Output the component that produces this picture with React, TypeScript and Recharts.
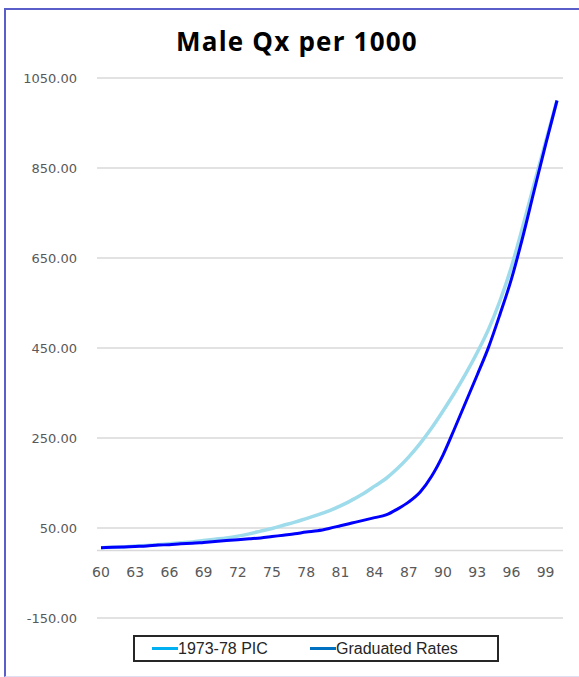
import { CartesianGrid, Legend, Line, LineChart, ReferenceLine, XAxis, YAxis } from 'recharts';

// ages 60..100
const ages = [
  60, 61, 62, 63, 64, 65, 66, 67, 68, 69, 70, 71, 72, 73, 74, 75, 76, 77, 78, 79, 80,
  81, 82, 83, 84, 85, 86, 87, 88, 89, 90, 91, 92, 93, 94, 95, 96, 97, 98, 99, 100,
];

const picRates = [
  6, 7, 8, 10, 11, 13, 15, 17, 19, 22, 25, 28, 32, 37, 43, 49, 56, 63, 71, 79, 88,
  99, 112, 126, 143, 160, 182, 208, 238, 272, 310, 350, 393, 440, 492, 555, 630, 720, 815, 908, 1000,
];

const graduatedRates = [
  6, 7, 8, 9, 10, 12, 13, 15, 16, 18, 20, 22, 24, 26, 28, 31, 34, 37, 41, 44, 49,
  55, 61, 67, 73, 79, 92, 108, 130, 165, 212, 270, 330, 390, 452, 525, 603, 697, 800, 902, 1000,
];

const yTicks = [-150, 50, 250, 450, 650, 850, 1050];

const seriesNames = ['1973-78 PIC', 'Graduated Rates'];
const legendColors = ['#00b0f0', '#0070c0'];

const data = ages.map((age, i) => ({
  age,
  pic: picRates[i],
  graduated: graduatedRates[i],
}));

const CHART_W = 573;
const CHART_H = 666;
const MARGIN = { top: 68, right: 16, left: 0, bottom: 14 };
const PLOT_H = 540;
const Y_MIN = -150;
const Y_MAX = 1050;
// pixel row of the zero value inside the chart svg
const ZERO_Y = MARGIN.top + (PLOT_H * Y_MAX) / (Y_MAX - Y_MIN);

const AgeTick = (props: any) => {
  const { x, payload } = props;
  return (
    <text
      x={x}
      y={ZERO_Y + 21.5}
      dy="0.35em"
      textAnchor="middle"
      fill="#595959"
      fontSize={14}
      fontFamily="DejaVu Sans"
    >
      {payload.value}
    </text>
  );
};

const LegendBox = () => (
  <div
    style={{
      boxSizing: 'border-box',
      width: 366,
      height: 27,
      border: '2px solid #262626',
      position: 'relative',
      fontFamily: 'Liberation Sans, Arial, sans-serif',
      fontSize: 16,
      color: '#262626',
      background: '#fff',
    }}
  >
    {seriesNames.map((name, i) => (
      <div
        key={name}
        style={{
          position: 'absolute',
          left: i === 0 ? 17 : 175,
          top: 0,
          height: 23,
          display: 'flex',
          alignItems: 'center',
          whiteSpace: 'nowrap',
        }}
      >
        <span style={{ display: 'inline-block', width: 26, height: 3, background: legendColors[i] }} />
        <span>{name}</span>
      </div>
    ))}
  </div>
);

export default function App() {
  return (
    <div
      style={{
        position: 'absolute',
        left: 4,
        top: 8,
        width: CHART_W,
        height: CHART_H,
        borderTop: '2px solid #5a5ec8',
        borderLeft: '2px solid #5a5ec8',
        borderBottom: '1px solid #dedff2',
        background: '#fff',
      }}
    >
      <div
        style={{
          position: 'absolute',
          left: 0,
          top: 15,
          width: 582,
          textAlign: 'center',
          fontFamily: 'Open Sans, Lato, sans-serif',
          fontWeight: 700,
          fontSize: 26,
          letterSpacing: 1.2,
          lineHeight: '32px',
          color: '#000',
          zIndex: 1,
        }}
      >
        Male Qx per 1000
      </div>
      <LineChart width={CHART_W} height={CHART_H} data={data} margin={MARGIN}>
        <CartesianGrid vertical={false} stroke="#d9d9d9" strokeWidth={1.5} />
        <XAxis
          dataKey="age"
          interval={2}
          axisLine={false}
          tickLine={false}
          height={17}
          padding={{ left: 4, right: 6 }}
          tick={<AgeTick />}
        />
        <YAxis
          width={91}
          domain={[Y_MIN, Y_MAX]}
          ticks={yTicks}
          tickFormatter={(v: number) => v.toFixed(2)}
          axisLine={false}
          tickLine={false}
          tickMargin={14}
          tick={{ fill: '#595959', fontSize: 13, fontFamily: 'DejaVu Sans' }}
        />
        <ReferenceLine y={0} stroke="#d9d9d9" strokeWidth={1.5} />
        <Legend
          verticalAlign="bottom"
          content={<LegendBox />}
          wrapperStyle={{ left: 127, width: 366 }}
        />
        <Line
          type="monotone"
          dataKey="pic"
          name={seriesNames[0]}
          stroke="#9edbeb"
          strokeWidth={3.5}
          dot={false}
          isAnimationActive={false}
        />
        <Line
          type="monotone"
          dataKey="graduated"
          name={seriesNames[1]}
          stroke="#0000ff"
          strokeWidth={3}
          dot={false}
          isAnimationActive={false}
        />
      </LineChart>
    </div>
  );
}
